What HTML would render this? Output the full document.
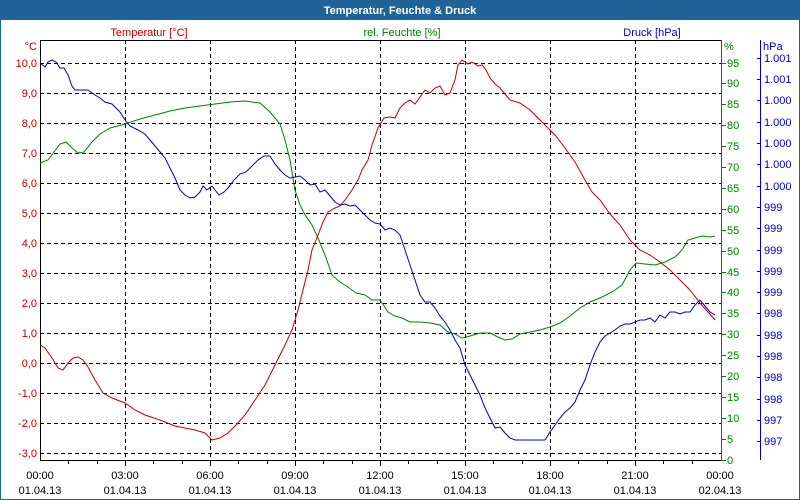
<!DOCTYPE html>
<html><head><meta charset="utf-8"><style>
html,body{margin:0;padding:0;background:#fff}
svg{display:block;font-family:"Liberation Sans","DejaVu Sans",sans-serif;font-size:11px}
</style></head><body>
<svg width="800" height="500" viewBox="0 0 800 500" xmlns="http://www.w3.org/2000/svg">
<rect x="0" y="0" width="800" height="500" fill="#fff"/>
<rect x="0.5" y="0.5" width="799" height="499" fill="none" stroke="#1f6397"/>
<rect x="0" y="0" width="800" height="20" fill="#1f6397"/>
<text x="400" y="14" fill="#fff" font-weight="bold" font-size="11" text-anchor="middle">Temperatur, Feuchte &amp; Druck</text>
<text x="149" y="36" fill="#c00000" text-anchor="middle">Temperatur [°C]</text>
<text x="402" y="36" fill="#008000" text-anchor="middle">rel. Feuchte [%]</text>
<text x="652" y="36" fill="#0000c0" text-anchor="middle">Druck [hPa]</text>
<g id="grid" stroke="#000" stroke-dasharray="4,3" stroke-width="1">
<line x1="40" x2="721" y1="63.5" y2="63.5"/><line x1="40" x2="721" y1="93.5" y2="93.5"/>
<line x1="40" x2="721" y1="123.5" y2="123.5"/><line x1="40" x2="721" y1="153.5" y2="153.5"/>
<line x1="40" x2="721" y1="183.5" y2="183.5"/><line x1="40" x2="721" y1="213.5" y2="213.5"/>
<line x1="40" x2="721" y1="243.5" y2="243.5"/><line x1="40" x2="721" y1="273.5" y2="273.5"/>
<line x1="40" x2="721" y1="303.5" y2="303.5"/><line x1="40" x2="721" y1="333.5" y2="333.5"/>
<line x1="40" x2="721" y1="363.5" y2="363.5"/><line x1="40" x2="721" y1="393.5" y2="393.5"/>
<line x1="40" x2="721" y1="423.5" y2="423.5"/><line x1="40" x2="721" y1="453.5" y2="453.5"/>
<line y1="40" y2="460" x1="125.5" x2="125.5"/><line y1="40" y2="460" x1="210.5" x2="210.5"/>
<line y1="40" y2="460" x1="295.5" x2="295.5"/><line y1="40" y2="460" x1="380.5" x2="380.5"/>
<line y1="40" y2="460" x1="465.5" x2="465.5"/><line y1="40" y2="460" x1="550.5" x2="550.5"/>
<line y1="40" y2="460" x1="635.5" x2="635.5"/>
</g>
<line x1="40" x2="721" y1="40.5" y2="40.5" stroke="#000"/>
<line x1="40.5" x2="40.5" y1="40" y2="460" stroke="#000"/>
<line x1="40" x2="721" y1="460.5" y2="460.5" stroke="#000"/>
<g stroke="#000">
<line x1="68.5" x2="68.5" y1="460" y2="464"/><line x1="97.5" x2="97.5" y1="460" y2="464"/>
<line x1="125.5" x2="125.5" y1="460" y2="466"/><line x1="153.5" x2="153.5" y1="460" y2="464"/>
<line x1="182.5" x2="182.5" y1="460" y2="464"/><line x1="210.5" x2="210.5" y1="460" y2="466"/>
<line x1="238.5" x2="238.5" y1="460" y2="464"/><line x1="267.5" x2="267.5" y1="460" y2="464"/>
<line x1="295.5" x2="295.5" y1="460" y2="466"/><line x1="323.5" x2="323.5" y1="460" y2="464"/>
<line x1="352.5" x2="352.5" y1="460" y2="464"/><line x1="380.5" x2="380.5" y1="460" y2="466"/>
<line x1="408.5" x2="408.5" y1="460" y2="464"/><line x1="437.5" x2="437.5" y1="460" y2="464"/>
<line x1="465.5" x2="465.5" y1="460" y2="466"/><line x1="493.5" x2="493.5" y1="460" y2="464"/>
<line x1="522.5" x2="522.5" y1="460" y2="464"/><line x1="550.5" x2="550.5" y1="460" y2="466"/>
<line x1="578.5" x2="578.5" y1="460" y2="464"/><line x1="607.5" x2="607.5" y1="460" y2="464"/>
<line x1="635.5" x2="635.5" y1="460" y2="466"/><line x1="663.5" x2="663.5" y1="460" y2="464"/>
<line x1="692.5" x2="692.5" y1="460" y2="464"/>
</g>
<g fill="#000" text-anchor="middle">
<text x="40" y="479">00:00</text><text x="40" y="494">01.04.13</text>
<text x="125" y="479">03:00</text><text x="125" y="494">01.04.13</text>
<text x="210" y="479">06:00</text><text x="210" y="494">01.04.13</text>
<text x="295" y="479">09:00</text><text x="295" y="494">01.04.13</text>
<text x="380" y="479">12:00</text><text x="380" y="494">01.04.13</text>
<text x="465" y="479">15:00</text><text x="465" y="494">01.04.13</text>
<text x="550" y="479">18:00</text><text x="550" y="494">01.04.13</text>
<text x="635" y="479">21:00</text><text x="635" y="494">01.04.13</text>
<text x="720" y="479">00:00</text><text x="720" y="494">02.04.13</text>
</g>
<g fill="#c00000" text-anchor="end">
<text x="37" y="50">°C</text>
<text x="37" y="67">10,0</text><text x="37" y="97">9,0</text><text x="37" y="127">8,0</text>
<text x="37" y="157">7,0</text><text x="37" y="187">6,0</text><text x="37" y="217">5,0</text>
<text x="37" y="247">4,0</text><text x="37" y="277">3,0</text><text x="37" y="307">2,0</text>
<text x="37" y="337">1,0</text><text x="37" y="367">0,0</text><text x="37" y="397">-1,0</text>
<text x="37" y="427">-2,0</text><text x="37" y="457">-3,0</text>
</g>
<line x1="721.5" x2="721.5" y1="40" y2="461" stroke="#008000"/>
<g stroke="#008000">
<line x1="721" x2="726" y1="460.5" y2="460.5"/><line x1="721" x2="726" y1="439.5" y2="439.5"/>
<line x1="721" x2="726" y1="418.5" y2="418.5"/><line x1="721" x2="726" y1="397.5" y2="397.5"/>
<line x1="721" x2="726" y1="376.5" y2="376.5"/><line x1="721" x2="726" y1="355.5" y2="355.5"/>
<line x1="721" x2="726" y1="334.5" y2="334.5"/><line x1="721" x2="726" y1="313.5" y2="313.5"/>
<line x1="721" x2="726" y1="292.5" y2="292.5"/><line x1="721" x2="726" y1="272.5" y2="272.5"/>
<line x1="721" x2="726" y1="251.5" y2="251.5"/><line x1="721" x2="726" y1="230.5" y2="230.5"/>
<line x1="721" x2="726" y1="209.5" y2="209.5"/><line x1="721" x2="726" y1="188.5" y2="188.5"/>
<line x1="721" x2="726" y1="167.5" y2="167.5"/><line x1="721" x2="726" y1="146.5" y2="146.5"/>
<line x1="721" x2="726" y1="125.5" y2="125.5"/><line x1="721" x2="726" y1="104.5" y2="104.5"/>
<line x1="721" x2="726" y1="83.5" y2="83.5"/><line x1="721" x2="726" y1="63.5" y2="63.5"/>
</g>
<g fill="#008000">
<text x="724" y="50">%</text>
<text x="727" y="464">0</text><text x="727" y="443">5</text><text x="727" y="422">10</text>
<text x="727" y="401">15</text><text x="727" y="380">20</text><text x="727" y="359">25</text>
<text x="727" y="338">30</text><text x="727" y="317">35</text><text x="727" y="296">40</text>
<text x="727" y="276">45</text><text x="727" y="255">50</text><text x="727" y="234">55</text>
<text x="727" y="213">60</text><text x="727" y="192">65</text><text x="727" y="171">70</text>
<text x="727" y="150">75</text><text x="727" y="129">80</text><text x="727" y="108">85</text>
<text x="727" y="87">90</text><text x="727" y="67">95</text>
</g>
<line x1="760.5" x2="760.5" y1="40" y2="460" stroke="#0000c0"/>
<g fill="#0000c0">
<text x="763" y="50">hPa</text>
<text x="764" y="62">1.001</text><text x="764" y="83">1.001</text><text x="764" y="104">1.000</text>
<text x="764" y="126">1.000</text><text x="764" y="147">1.000</text><text x="764" y="168">1.000</text>
<text x="764" y="190">1.000</text><text x="764" y="211">999</text><text x="764" y="232">999</text>
<text x="764" y="254">999</text><text x="764" y="275">999</text><text x="764" y="296">999</text>
<text x="764" y="317">998</text><text x="764" y="339">998</text><text x="764" y="360">998</text>
<text x="764" y="381">998</text><text x="764" y="403">998</text><text x="764" y="424">997</text>
<text x="764" y="445">997</text>
</g>
<g stroke="#0000c0">
<line x1="757" x2="761" y1="58.5" y2="58.5"/><line x1="757" x2="761" y1="79.5" y2="79.5"/>
<line x1="757" x2="761" y1="100.5" y2="100.5"/><line x1="757" x2="761" y1="122.5" y2="122.5"/>
<line x1="757" x2="761" y1="143.5" y2="143.5"/><line x1="757" x2="761" y1="164.5" y2="164.5"/>
<line x1="757" x2="761" y1="186.5" y2="186.5"/><line x1="757" x2="761" y1="207.5" y2="207.5"/>
<line x1="757" x2="761" y1="228.5" y2="228.5"/><line x1="757" x2="761" y1="250.5" y2="250.5"/>
<line x1="757" x2="761" y1="271.5" y2="271.5"/><line x1="757" x2="761" y1="292.5" y2="292.5"/>
<line x1="757" x2="761" y1="313.5" y2="313.5"/><line x1="757" x2="761" y1="335.5" y2="335.5"/>
<line x1="757" x2="761" y1="356.5" y2="356.5"/><line x1="757" x2="761" y1="377.5" y2="377.5"/>
<line x1="757" x2="761" y1="399.5" y2="399.5"/><line x1="757" x2="761" y1="420.5" y2="420.5"/>
<line x1="757" x2="761" y1="441.5" y2="441.5"/>
</g>
<g fill="none" stroke-width="1">
<polyline stroke="#008000" points="40,163 48,160 54,152 60,144 66,142 72,148 78,153 84,152 92,142 100,134 110,128 125,124 140,119 155,115 170,111 185,108 200,106 215,104 230,102 245,101 260,103 270,112 280,124 285,140 290,160 295,190 300,205 305,215 312,225 318,238 325,255 332,275 340,282 348,287 356,293 365,295 372,300 380,300 388,312 395,316 402,318 410,322 420,322 430,323 440,325 448,332 455,334 462,338 470,336 480,333 490,333 498,337 505,340 512,339 520,334 530,332 540,330 550,327 560,323 570,316 580,308 590,302 600,298 612,292 622,285 630,270 636,263 645,264 655,265 665,262 675,257 682,250 688,240 695,238 702,236 710,237 715,236"/>
<polyline stroke="#c00000" points="40,345 45,348 52,358 58,368 63,370 68,363 73,358 78,357 83,360 88,367 95,380 103,393 112,398 125,403 135,410 145,415 160,420 175,426 185,428 195,430 205,433 212,440 220,438 228,433 236,425 245,415 255,400 265,385 275,365 285,345 292,330 298,310 303,290 308,270 312,250 318,235 323,222 328,212 335,208 340,206 345,200 352,190 358,180 362,170 368,160 372,145 378,128 384,118 390,117 395,118 400,108 405,103 410,100 415,104 420,97 425,90 430,93 435,88 440,86 445,95 450,93 455,80 458,65 462,60 468,64 472,62 478,66 482,65 486,70 490,78 495,84 500,88 510,100 520,103 530,110 540,120 548,128 555,135 565,148 575,162 585,180 592,192 600,200 610,214 620,225 630,240 640,250 650,255 660,262 670,270 680,280 690,290 700,303 708,312 715,320"/>
<polyline stroke="#0000c0" points="40,63 45,67 48,62 52,60 56,62 60,68 64,68 68,75 72,86 75,90 88,90 95,95 100,98 105,102 112,104 120,112 125,120 130,126 138,130 145,134 150,140 155,146 160,152 165,158 170,168 175,178 180,190 185,195 190,198 195,197 200,192 203,186 207,190 212,186 215,190 219,195 224,192 228,188 234,180 240,174 246,172 252,166 258,160 264,156 270,156 275,164 280,170 285,175 290,178 300,176 305,180 310,185 315,184 320,192 325,190 330,196 335,202 340,205 345,204 350,206 355,205 360,210 365,215 370,220 375,223 380,224 385,230 390,228 395,230 400,235 405,250 410,265 415,280 420,295 425,302 430,302 435,308 440,316 445,322 450,330 455,340 460,348 465,365 470,375 475,385 480,395 485,408 490,418 495,428 500,427 505,433 510,438 515,440 525,440 535,440 545,440 550,432 555,425 560,418 565,412 570,408 575,402 580,390 585,380 590,365 595,352 600,342 605,336 610,333 615,330 620,326 625,324 630,324 635,322 640,320 645,320 650,318 655,322 660,315 665,318 670,312 675,312 680,314 685,312 690,312 695,305 700,300 705,306 710,312 715,315"/>
</g>
</svg>
</body></html>
